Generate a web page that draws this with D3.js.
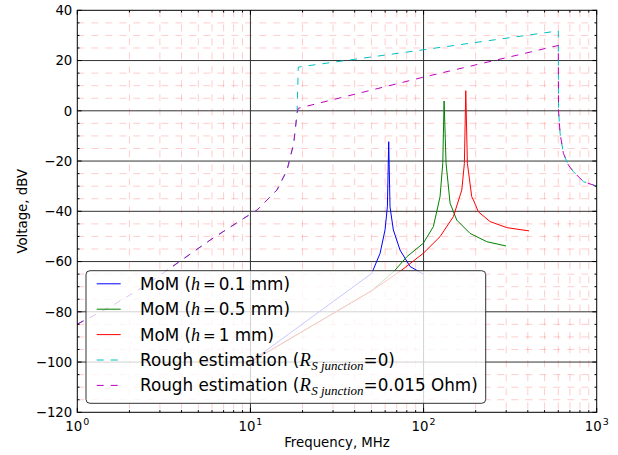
<!DOCTYPE html>
<html>
<head>
<meta charset="utf-8">
<script src="https://cdn.jsdelivr.net/npm/d3@7"></script>
<style>
  html, body { margin: 0; padding: 0; background: #fff; }
  svg { display: block; font-family: "DejaVu Sans", sans-serif; }
</style>
</head>
<body>
<svg id="chart" width="618" height="455"></svg>
<script>
// ---------------- data ----------------
const freqBlue = [10, 50.2, 56.1, 59.9, 61.8, 62.9, 64.0, 66.9, 73.1, 83.6, 99.7];
const voltBlue = [-100, -64.7, -56.7, -47.4, -38.2, -12.3, -38.2, -47.4, -55.4, -62.0, -65.0];

const freqGreen = [10, 50.2, 68.5, 80.0, 99.7, 113.9, 124.5, 129.1, 131.4, 134.9, 142.3, 155.5, 185.6, 231.8, 299.7];
const voltGreen = [-100, -71.6, -63.4, -58.1, -52.7, -46.1, -34.2, -20.9, 3.9, -20.9, -36.8, -43.5, -48.8, -52.1, -53.8];

const freqRed = [10, 50.2, 74.8, 99.7, 124.5, 148.7, 166.3, 172.1, 175.3, 179.1, 189.8, 194, 207.3, 242.3, 302.5, 406.8];
const voltRed = [-100, -71.6, -63.4, -56.7, -50.1, -42.1, -31.5, -20.9, 8.0, -20.9, -34.2, -35.5, -40.2, -44.1, -46.5, -47.8];

const freqCyan = [1, 1.551, 2.418, 3.767, 5.866, 9.15, 10.92, 14.24, 16.27, 17.79, 18.59, 18.9, 100, 600, 602, 614.6, 642, 686, 733, 838, 1000];
const voltCyan = [-84.9, -78.0, -70.0, -60.7, -51.4, -42.8, -39.5, -31.5, -23.6, -12.9, -1.0, 17.4, 24.3, 31.8, 0, -9.0, -16.9, -21.6, -24.2, -28.2, -30.0];

const freqMagenta = [1, 1.551, 2.418, 3.767, 5.866, 9.15, 10.92, 14.24, 16.27, 17.79, 18.59, 18.9, 100, 600, 602, 614.6, 642, 686, 733, 838, 1000];
const voltMagenta = [-84.9, -78.0, -70.0, -60.7, -51.4, -42.8, -39.5, -31.5, -23.6, -12.9, -1.0, 1.0, 13.4, 26.0, 0, -9.0, -16.9, -21.6, -24.2, -28.2, -30.0];

const xTickValues = [1, 10, 100, 1000];
const xTickExponents = ["0", "1", "2", "3"];
const yTickValues = [40, 20, 0, -20, -40, -60, -80, -100, -120];

const seriesNames = ["MoM", "MoM", "MoM", "Rough estimation", "Rough estimation"];
const seriesParams = ["0.1 mm)", "0.5 mm)", "1 mm)", "=0)", "=0.015 Ohm)"];
const seriesColors = ["#0000ff", "#008000", "#ff0000", "#00bfbf", "#bf00bf"];
const seriesDashed = [false, false, false, true, true];

const xLabel = "Frequency, MHz";
const yLabel = "Voltage, dBV";

// ---------------- layout ----------------
const L = 77.3, R = 596.7, T = 10.3, B = 412.3;
const svg = d3.select("#chart");

const x = d3.scaleLog().domain([1, 1000]).range([L, R]);
const y = d3.scaleLinear().domain([-120, 40]).range([B, T]);

// minor grid positions (from scale)
const minorX = [];
[1, 10, 100].forEach(d => { for (let k = 2; k <= 9; k++) minorX.push(d * k); });
const minorY = d3.range(-120, 41, 5).filter(v => v % 20 !== 0);

const grid = svg.append("g");
grid.selectAll("line.mx").data(minorX).join("line")
  .attr("x1", d => x(d)).attr("x2", d => x(d)).attr("y1", T).attr("y2", B)
  .attr("stroke", "#ff0000").attr("stroke-opacity", 0.2).attr("stroke-width", 1)
  .attr("stroke-dasharray", "7,7");
grid.selectAll("line.my").data(minorY).join("line")
  .attr("x1", L).attr("x2", R).attr("y1", d => y(d)).attr("y2", d => y(d))
  .attr("stroke", "#ff0000").attr("stroke-opacity", 0.2).attr("stroke-width", 1)
  .attr("stroke-dasharray", "7,7");
// major grid
grid.selectAll("line.Mx").data(xTickValues.slice(1, 3)).join("line")
  .attr("x1", d => x(d)).attr("x2", d => x(d)).attr("y1", T).attr("y2", B)
  .attr("stroke", "#333").attr("stroke-width", 1);
grid.selectAll("line.My").data(yTickValues.slice(1, -1)).join("line")
  .attr("x1", L).attr("x2", R).attr("y1", d => y(d)).attr("y2", d => y(d))
  .attr("stroke", "#333").attr("stroke-width", 1);

// ---------------- data lines ----------------
svg.append("clipPath").attr("id", "clip").append("rect")
  .attr("x", L).attr("y", T).attr("width", R - L).attr("height", B - T);

const series = [
  [freqBlue, voltBlue], [freqGreen, voltGreen], [freqRed, voltRed],
  [freqCyan, voltCyan], [freqMagenta, voltMagenta]
];
const line = d3.line().x(d => x(d[0])).y(d => y(d[1]));
const gl = svg.append("g").attr("clip-path", "url(#clip)");
series.forEach((s, i) => {
  const pts = s[0].map((f, j) => [f, s[1][j]]);
  gl.append("path").attr("d", line(pts))
    .attr("fill", "none").attr("stroke", seriesColors[i]).attr("stroke-width", 1)
    .attr("stroke-dasharray", seriesDashed[i] ? "7,7" : null);
});

// ---------------- axes frame & ticks ----------------
const axG = svg.append("g");
const minorLen = 2.2, majorLen = 4.4;
minorX.forEach(d => {
  axG.append("line").attr("x1", x(d)).attr("x2", x(d)).attr("y1", B).attr("y2", B - minorLen).attr("stroke", "#000");
  axG.append("line").attr("x1", x(d)).attr("x2", x(d)).attr("y1", T).attr("y2", T + minorLen).attr("stroke", "#000");
});
xTickValues.forEach(d => {
  axG.append("line").attr("x1", x(d)).attr("x2", x(d)).attr("y1", B).attr("y2", B - majorLen).attr("stroke", "#000");
  axG.append("line").attr("x1", x(d)).attr("x2", x(d)).attr("y1", T).attr("y2", T + majorLen).attr("stroke", "#000");
});
minorY.forEach(d => {
  axG.append("line").attr("x1", L).attr("x2", L + minorLen).attr("y1", y(d)).attr("y2", y(d)).attr("stroke", "#000");
  axG.append("line").attr("x1", R).attr("x2", R - minorLen).attr("y1", y(d)).attr("y2", y(d)).attr("stroke", "#000");
});
yTickValues.forEach(d => {
  axG.append("line").attr("x1", L).attr("x2", L + majorLen).attr("y1", y(d)).attr("y2", y(d)).attr("stroke", "#000");
  axG.append("line").attr("x1", R).attr("x2", R - majorLen).attr("y1", y(d)).attr("y2", y(d)).attr("stroke", "#000");
});
axG.append("rect").attr("x", L).attr("y", T).attr("width", R - L).attr("height", B - T)
  .attr("fill", "none").attr("stroke", "#000").attr("stroke-width", 1);

// y tick labels
svg.append("g").selectAll("text").data(yTickValues).join("text")
  .attr("x", L - 5).attr("y", d => y(d) + 4.8)
  .attr("text-anchor", "end").attr("font-size", 13.3).attr("fill", "#000")
  .text(d => d < 0 ? "\u2212" + Math.abs(d) : String(d));

// x tick labels 10^n
const xt = svg.append("g").selectAll("text").data(xTickValues).join("text")
  .attr("x", d => x(d)).attr("y", 430.5)
  .attr("text-anchor", "middle").attr("font-size", 13.3).attr("fill", "#000");
xt.append("tspan").text("10");
xt.append("tspan").attr("font-size", 9.5).attr("dy", -6).attr("dx", 1).text((d, i) => xTickExponents[i]);

// axis labels
svg.append("text").attr("x", (L + R) / 2).attr("y", 446.5)
  .attr("text-anchor", "middle").attr("font-size", 13.3).text(xLabel);
svg.append("text").attr("transform", `translate(27,${(T + B) / 2}) rotate(-90)`)
  .attr("text-anchor", "middle").attr("font-size", 13.3).text(yLabel);

// ---------------- legend ----------------
const lg = svg.append("g");
lg.append("rect").attr("x", 86).attr("y", 270.7).attr("width", 399.7).attr("height", 132.6)
  .attr("rx", 4).attr("ry", 4)
  .attr("fill", "#fff").attr("fill-opacity", 0.78)
  .attr("stroke", "#333").attr("stroke-width", 1);

const serif = "'Liberation Serif', 'DejaVu Serif', serif";
seriesNames.forEach((name, i) => {
  const cy = 283.8 + i * 25.4;
  lg.append("line").attr("x1", 96.7).attr("x2", 120.7).attr("y1", cy).attr("y2", cy)
    .attr("stroke", seriesColors[i]).attr("stroke-width", 1)
    .attr("stroke-dasharray", seriesDashed[i] ? "7,7" : null);
  const t = lg.append("text").attr("x", 140).attr("y", cy + 6).attr("font-size", 16.8).attr("fill", "#000");
  t.append("tspan").text(name + " (");
  if (i < 3) {
    t.append("tspan").attr("font-family", serif).attr("font-style", "italic").attr("font-size", 18).text("h");
    t.append("tspan").attr("font-size", 15).attr("dx", 3).text("=");
    t.append("tspan").attr("dx", 3).text(seriesParams[i]);
  } else {
    t.append("tspan").attr("font-family", serif).attr("font-style", "italic").attr("font-size", 18.5).text("R");
    t.append("tspan").attr("font-family", serif).attr("font-style", "italic").attr("font-size", 13)
      .attr("dy", 3.5).attr("dx", 0.5).text("S junction");
    t.append("tspan").attr("dy", -3.5).text(seriesParams[i]);
  }
});
</script>
</body>
</html>
